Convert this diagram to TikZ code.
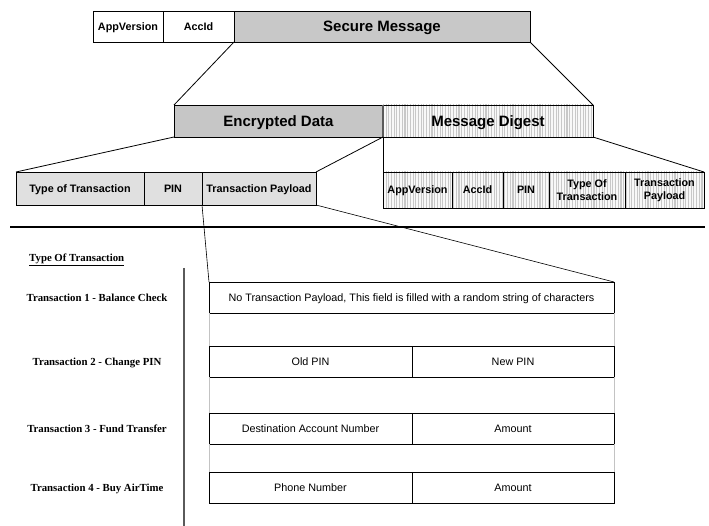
\documentclass[tikz,border=0pt]{standalone}
\usepackage{fontspec}
\setmainfont{Liberation Serif}
\setsansfont{Liberation Sans}
\usetikzlibrary{patterns.meta}
\definecolor{smfill}{RGB}{200,200,200}
\definecolor{edfill}{RGB}{198,198,198}
\definecolor{lightfill}{RGB}{224,224,224}
\definecolor{stripebg}{RGB}{248,248,248}
\definecolor{stripefg}{RGB}{200,200,200}
\definecolor{linkgray}{RGB}{195,195,195}
\definecolor{divgray}{RGB}{90,90,90}
\begin{document}
\begin{tikzpicture}[x=1pt,y=-1pt,
  cell/.style={draw=black, line width=0.8pt, inner sep=0pt, outer sep=0pt,
    anchor=north west, align=center,
    font=\sffamily\bfseries\fontsize{10.8}{12.5}\selectfont},
  bigcell/.style={cell, text depth=0pt, font=\sffamily\bfseries\fontsize{15}{17}\selectfont},
  plaincell/.style={cell, text depth=0pt, font=\sffamily\fontsize{10.8}{12.5}\selectfont},
  onecell/.style={cell, text depth=0pt},
  grayfill/.style={fill=smfill},
  lightgray/.style={fill=lightfill},
  stripes/.style={preaction={fill=stripebg},
    pattern={Lines[angle=90, distance=2.7pt, line width=1.1pt]}, pattern color=stripefg},
  lab/.style={inner sep=0pt, text depth=0pt, font=\rmfamily\bfseries\fontsize{10.8}{12.5}\selectfont},
  conn/.style={draw=black, line width=0.8pt},
  link/.style={draw=linkgray, line width=0.8pt}
]
\useasboundingbox (0,0) rectangle (709,526);

% top row
\node[onecell, minimum width=70pt, minimum height=31pt] (av) at (93,11) {AppVersion};
\node[onecell, minimum width=71pt, minimum height=31pt] (acc) at (163,11) {AccId};
\node[bigcell, grayfill, minimum width=296pt, minimum height=31pt] (sm) at (234,11) {Secure Message};

% middle row
\node[bigcell, fill=edfill, minimum width=209pt, minimum height=32pt] (ed) at (174,105) {Encrypted Data};
\node[bigcell, stripes, minimum width=210pt, minimum height=32pt] (md) at (383,105) {Message Digest};
\draw[divgray, line width=1.2pt] (md.north west) -- (md.south west);

% third row left
\node[onecell, lightgray, minimum width=128pt, minimum height=33pt] (tt) at (16,172) {Type of Transaction};
\node[onecell, lightgray, minimum width=58pt, minimum height=33pt] (pin) at (144,172) {PIN};
\node[onecell, lightgray, minimum width=114pt, minimum height=33pt] (tp) at (202,172) {Transaction Payload};

% third row right
\node[onecell, stripes, minimum width=69pt, minimum height=36pt] (rav) at (383,172) {AppVersion};
\node[onecell, stripes, minimum width=51pt, minimum height=36pt] (racc) at (452,172) {AccId};
\node[onecell, stripes, minimum width=46pt, minimum height=36pt] (rpin) at (503,172) {PIN};
\node[cell, stripes, minimum width=76pt, minimum height=36pt] (rtt) at (549,172) {Type Of\\Transaction};
\node[cell, stripes, minimum width=79pt, minimum height=36pt] (rtp) at (625,172) {Transaction\\Payload};

% connectors (zoom lines)
\draw[conn] (sm.south west) -- (ed.north west);
\draw[conn] (sm.south east) -- (md.north east);
\draw[conn] (ed.south west) -- (tt.north west);
\draw[conn] (md.south west) -- (tp.north east);
\draw[conn] (md.south west) -- (rav.north west);
\draw[conn] (md.south east) -- (rtp.north east);

% separator rule
\coordinate (rl) at (10,227);
\coordinate (rr) at (705,227);
\draw[black, line width=1.8pt] (rl) -- (rr);

% lower part
\node[lab, anchor=west] (lab0) at (29,258) {\underline{Type Of Transaction}};
\coordinate (vt) at (184,268);
\coordinate (vb) at (184,526);
\draw[divgray, line width=1.2pt] (vt) -- (vb);

\node[plaincell, minimum width=405pt, minimum height=31pt] (b1) at (209,282) {No Transaction Payload, This field is filled with a random string of characters};
\node[plaincell, minimum width=203pt, minimum height=31pt] (b2a) at (209,346) {Old PIN};
\node[plaincell, minimum width=202pt, minimum height=31pt] (b2b) at (412,346) {New PIN};
\node[plaincell, minimum width=203pt, minimum height=31pt] (b3a) at (209,413) {Destination Account Number};
\node[plaincell, minimum width=202pt, minimum height=31pt] (b3b) at (412,413) {Amount};
\node[plaincell, minimum width=203pt, minimum height=31pt] (b4a) at (209,472) {Phone Number};
\node[plaincell, minimum width=202pt, minimum height=31pt] (b4b) at (412,472) {Amount};

\draw[conn, line width=0.6pt] (tp.south west) -- (b1.north west);
\draw[conn, line width=0.6pt] (tp.south east) -- (b1.north east);

\draw[link] (b1.south west) -- (b2a.north west);
\draw[link] (b1.south east) -- (b2b.north east);
\draw[link] (b2a.south west) -- (b3a.north west);
\draw[link] (b2b.south east) -- (b3b.north east);
\draw[link] (b3a.south west) -- (b4a.north west);
\draw[link] (b3b.south east) -- (b4b.north east);

\node[lab] (lab1) at (97,298) {Transaction 1 - Balance Check};
\node[lab] (lab2) at (97,362) {Transaction 2 - Change PIN};
\node[lab] (lab3) at (97,429) {Transaction 3 - Fund Transfer};
\node[lab] (lab4) at (97,488) {Transaction 4 - Buy AirTime};
\end{tikzpicture}
\end{document}
